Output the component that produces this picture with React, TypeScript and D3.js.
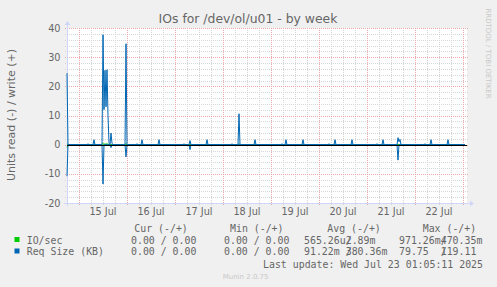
import React from "react";
import * as d3 from "d3";

const W = 497;
const H = 287;

const START = "2025-07-14T18:00:00Z";
const END = "2025-07-23T02:00:00Z";
const LAST = "2025-07-23T01:00:00Z";
const STEP_MIN = 30;

const title = "IOs for /dev/ol/u01 - by week";
const yLabel = "Units read (-) / write (+)";
const yTicks = [-20, -10, 0, 10, 20, 30, 40];
const yMinorStep = 2;

// Req Size (KB) write (+)
const reqWriteTimes = [
  "2025-07-14T18:00:00Z", "2025-07-15T04:30:00Z", "2025-07-15T07:30:00Z",
  "2025-07-15T12:00:00Z", "2025-07-15T12:30:00Z", "2025-07-15T13:00:00Z",
  "2025-07-15T13:30:00Z", "2025-07-15T14:00:00Z", "2025-07-15T14:30:00Z",
  "2025-07-15T15:00:00Z", "2025-07-15T16:00:00Z", "2025-07-15T16:30:00Z",
  "2025-07-15T23:30:00Z", "2025-07-16T05:00:00Z", "2025-07-16T07:30:00Z",
  "2025-07-16T16:00:00Z", "2025-07-17T04:30:00Z", "2025-07-17T07:30:00Z",
  "2025-07-17T16:00:00Z", "2025-07-18T04:30:00Z", "2025-07-18T08:00:00Z",
  "2025-07-18T16:00:00Z", "2025-07-19T05:30:00Z", "2025-07-19T07:30:00Z",
  "2025-07-19T16:00:00Z", "2025-07-20T05:00:00Z", "2025-07-20T08:00:00Z",
  "2025-07-20T16:30:00Z", "2025-07-21T05:00:00Z", "2025-07-21T08:00:00Z",
  "2025-07-21T15:30:00Z", "2025-07-21T16:00:00Z", "2025-07-21T16:30:00Z",
  "2025-07-22T05:00:00Z", "2025-07-22T08:00:00Z", "2025-07-22T16:30:00Z",
];
const reqWriteValues = [
  24.5, 0.3, 1.7,
  37.7, 12, 25.5,
  13, 25.7, 10,
  0.5, 4, 0.5,
  34.6, 0.3, 1.7,
  1.7, 0.3, 1.4,
  1.7, 0.3, 10.6,
  1.7, 0.3, 1.7,
  1.7, 0.3, 1.7,
  1.7, 0.3, 1.7,
  2.4, 1.0, 1.8,
  0.3, 1.7, 1.7,
];

// Req Size (KB) read (-)
const reqReadTimes = [
  "2025-07-14T18:00:00Z", "2025-07-15T12:00:00Z", "2025-07-15T16:00:00Z",
  "2025-07-15T23:30:00Z", "2025-07-17T07:30:00Z", "2025-07-21T15:30:00Z",
];
const reqReadValues = [10.8, 13.5, 1.0, 4.2, 1.7, 5.3];

// IO/sec write (+) and read (-)
const ioWriteTimes = [
  "2025-07-14T18:00:00Z", "2025-07-15T12:00:00Z", "2025-07-15T13:00:00Z",
  "2025-07-15T14:00:00Z", "2025-07-15T23:30:00Z", "2025-07-18T08:00:00Z",
];
const ioWriteValues = [0.3, 0.47, 0.4, 0.45, 0.4, 0.3];
const ioReadTimes = ["2025-07-14T18:00:00Z", "2025-07-15T12:00:00Z"];
const ioReadValues = [0.97, 0.3];

const legendHeaders = ["Cur (-/+)", "Min (-/+)", "Avg (-/+)", "Max (-/+)"];
const ioLegend = ["IO/sec", "0.00 / 0.00", "0.00 / 0.00", "565.26u", " 2.89m", "971.26m", "470.35m"];
const reqLegend = ["Req Size (KB)", "0.00 / 0.00", "0.00 / 0.00", " 91.22m", "380.36m", " 79.75 ", "119.11"];
const lastUpdate = "Last update: Wed Jul 23 01:05:11 2025";
const version = "Munin 2.0.75";
const watermark = "RRDTOOL / TOBI OETIKER";

const GREEN = "#00cc00";
const BLUE = "#0066b3";

function buildSeries(times: string[], values: number[]) {
  const m = new Map<number, number>();
  times.forEach((t, i) => m.set(+new Date(t), values[i]));
  const out: { t: Date; v: number }[] = [];
  const step = STEP_MIN * 60000;
  for (let t = +new Date(START); t <= +new Date(LAST); t += step) {
    out.push({ t: new Date(t), v: m.get(t) ?? 0 });
  }
  return out;
}

export default function App() {
  const x0 = 67, x1 = 467, yTop = 28, yBot = 203;
  const x = d3.scaleUtc().domain([new Date(START), new Date(END)]).range([x0, x1]);
  const y = d3.scaleLinear().domain([-20, 40]).range([yBot, yTop]);
  const px = (v: number) => Math.round(v) + 0.5;

  const minorX = d3.utcHour.every(6)!.range(new Date(START), new Date(END));
  const majorX = d3.utcDay.range(new Date(START), new Date(END));
  const minorY = d3.range(-20, 40.001, yMinorStep);
  const fmt = d3.utcFormat("%-d %b");

  const line = d3
    .line<{ t: Date; v: number }>()
    .x((d) => x(d.t))
    .y((d) => y(d.v));

  const reqW = buildSeries(reqWriteTimes, reqWriteValues);
  const reqR = buildSeries(reqReadTimes, reqReadValues).map((d) => ({ t: d.t, v: -d.v }));
  const ioW = buildSeries(ioWriteTimes, ioWriteValues);
  const ioR = buildSeries(ioReadTimes, ioReadValues).map((d) => ({ t: d.t, v: -d.v }));

  const mono = "'DejaVu Sans Mono', monospace";
  const sans = "'DejaVu Sans', sans-serif";
  const fontCol = "#666666";
  const axisCol = "#cfd6f8";

  const colX = [131, 224];
  const avgX = 304, maxX = 399, cw = 5.96;
  const rowY = [243.5, 255];

  return (
    <svg width={W} height={H} style={{ position: "absolute", left: 0, top: 0 }} xmlns="http://www.w3.org/2000/svg">
      <rect x={0} y={0} width={W} height={H} fill="#f0f0f0" />
      <rect x={x0} y={yTop} width={x1 - x0} height={yBot - yTop} fill="#ffffff" />

      {/* minor grid */}
      {minorY.map((v) => (
        <line key={"hy" + v} x1={x0 - 2} x2={x1 + 2} y1={px(y(v))} y2={px(y(v))} stroke="#d6d6d6" strokeDasharray="1,1" strokeWidth={1} />
      ))}
      {minorX.map((t) => (
        <line key={"vx" + +t} x1={px(x(t))} x2={px(x(t))} y1={yTop} y2={yBot + 2} stroke="#d6d6d6" strokeDasharray="1,1" strokeWidth={1} />
      ))}
      {/* major grid */}
      {yTicks.map((v) => (
        <line key={"my" + v} x1={x0 - 2} x2={x1 + 2} y1={px(y(v))} y2={px(y(v))} stroke="#eaa8a8" strokeDasharray="1,1" strokeWidth={1} />
      ))}
      {majorX.map((t) => (
        <line key={"mx" + +t} x1={px(x(t))} x2={px(x(t))} y1={yTop} y2={yBot + 2} stroke="#eaa8a8" strokeDasharray="1,1" strokeWidth={1} />
      ))}

      {/* axes */}
      <line x1={x0 - 3} x2={x1 + 3} y1={px(yBot)} y2={px(yBot)} stroke={axisCol} strokeWidth={1} />
      <line x1={px(x0)} x2={px(x0)} y1={yBot + 3} y2={yTop - 3} stroke={axisCol} strokeWidth={1} />
      <path d={`M${x1 + 3},${yBot - 2.5} L${x1 + 7},${yBot + 0.5} L${x1 + 3},${yBot + 3.5} Z`} fill={axisCol} />
      <path d={`M${x0 - 2.5},${yTop - 3} L${x0 + 0.5},${yTop - 7} L${x0 + 3.5},${yTop - 3} Z`} fill={axisCol} />

      {/* data */}
      <path d={line(ioR)!} fill="none" stroke={GREEN} strokeWidth={1} />
      <path d={line(ioW)!} fill="none" stroke={GREEN} strokeWidth={1} />
      <path d={line(reqR)!} fill="none" stroke={BLUE} strokeWidth={1} />
      <path d={line(reqW)!} fill="none" stroke={BLUE} strokeWidth={1} />
      <line x1={x0} x2={x1} y1={px(y(0))} y2={px(y(0))} stroke="#000" strokeWidth={1} />

      {/* y tick labels */}
      {yTicks.map((v) => (
        <text key={"yt" + v} x={60.5} y={y(v) + 3.5} textAnchor="end" fontFamily={sans} fontSize={9.7} fill={fontCol}>
          {v}
        </text>
      ))}
      {/* x labels at noon */}
      {majorX.map((t) => {
        const noon = d3.utcHour.offset(t, 12);
        if (+noon > +new Date(END)) return null;
        return (
          <text key={"xl" + +t} x={x(noon)} y={215} textAnchor="middle" fontFamily={sans} fontSize={9.7} fill={fontCol}>
            {fmt(noon)}
          </text>
        );
      })}

      <text x={248} y={23} textAnchor="middle" fontFamily={sans} fontSize={12.4} fill={fontCol}>
        {title}
      </text>
      <text transform={`translate(15,115) rotate(-90)`} textAnchor="middle" fontFamily={sans} fontSize={11} fill={fontCol}>
        {yLabel}
      </text>
      <text transform={`translate(486,53.5) rotate(90)`} textAnchor="middle" fontFamily={sans} fontSize={7} fill="#c8c8c8">
        {watermark}
      </text>

      {/* legend */}
      <g fontFamily={mono} fontSize={9.9} fill={fontCol} style={{ whiteSpace: "pre" }}>
        <text x={134.3} y={232}>{legendHeaders[0]}</text>
        <text x={230} y={232}>{legendHeaders[1]}</text>
        <text x={327.3} y={232}>{legendHeaders[2]}</text>
        <text x={422.7} y={232}>{legendHeaders[3]}</text>
        {[ioLegend, reqLegend].map((row, i) => (
          <g key={"lg" + i}>
            <rect x={14.5} y={rowY[i] - 6.5} width={5} height={5} fill={i === 0 ? GREEN : BLUE} />
            <text x={26.7} y={rowY[i]}>{row[0]}</text>
            <text x={colX[0]} y={rowY[i]}>{row[1]}</text>
            <text x={colX[1]} y={rowY[i]}>{row[2]}</text>
            <text x={avgX} y={rowY[i]}>{row[3]}</text>
            <text x={avgX + 7 * cw} y={rowY[i]}>/</text>
            <text x={avgX + 7 * cw} y={rowY[i]}>{row[4]}</text>
            <text x={maxX} y={rowY[i]}>{row[5]}</text>
            <text x={maxX + 7 * cw} y={rowY[i]}>/</text>
            <text x={maxX + 7 * cw} y={rowY[i]}>{row[6]}</text>
          </g>
        ))}
        <text x={483} y={267.5} textAnchor="end">{lastUpdate}</text>
      </g>
      <text x={222.7} y={279} fontFamily={sans} fontSize={7} fill="#c8c8c8">
        {version}
      </text>
    </svg>
  );
}
